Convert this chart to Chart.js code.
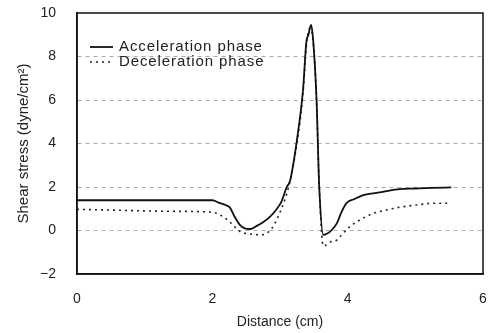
<!DOCTYPE html>
<html lang="en">
<head>
  <meta charset="UTF-8">
  <title>Shear stress vs distance</title>
  <script src="https://cdn.jsdelivr.net/npm/chart.js"></script>
  <style>
    html, body { margin: 0; padding: 0; background: #fff; }
    #wrap { width: 495px; height: 333px; }
  </style>
</head>
<body>
  <div id="wrap"><canvas id="shearChart" width="495" height="333"></canvas></div>

  <script>
    // values
    const accelX = [0, 0.5, 1.0, 1.5, 2.0, 2.1, 2.2, 2.26, 2.33, 2.41, 2.48, 2.56, 2.65, 2.75, 2.85, 2.95, 3.02, 3.1, 3.15, 3.25, 3.34, 3.39, 3.42, 3.46, 3.49, 3.54, 3.58, 3.64, 3.74, 3.84, 3.91, 3.98, 4.1, 4.23, 4.4, 4.52, 4.77, 5.0, 5.25, 5.53];
    const accelY = [1.39, 1.39, 1.39, 1.39, 1.39, 1.27, 1.16, 1.05, 0.63, 0.25, 0.1, 0.07, 0.2, 0.38, 0.63, 0.98, 1.32, 2.0, 2.3, 4.16, 6.46, 8.68, 9.0, 9.45, 8.75, 6.0, 2.0, -0.2, -0.05, 0.33, 0.86, 1.25, 1.45, 1.63, 1.72, 1.78, 1.9, 1.93, 1.96, 1.98];

    const decelX = [0, 0.5, 1.0, 1.5, 2.0, 2.16, 2.28, 2.41, 2.56, 2.73, 2.88, 2.97, 3.07, 3.15, 3.25, 3.34, 3.39, 3.44, 3.49, 3.54, 3.58, 3.64, 3.76, 3.84, 3.91, 4.03, 4.18, 4.38, 4.57, 4.77, 5.02, 5.26, 5.53];
    const decelY = [0.97, 0.94, 0.9, 0.88, 0.84, 0.63, 0.33, -0.05, -0.16, -0.2, 0.1, 0.63, 1.4, 2.3, 4.0, 6.3, 8.5, 9.3, 8.7, 6.0, 2.0, -0.71, -0.51, -0.44, -0.21, 0.17, 0.48, 0.79, 0.94, 1.07, 1.17, 1.25, 1.25];

    const xTicks = [0, 2, 4, 6];
    const yTicks = [-2, 0, 2, 4, 6, 8, 10];
    const seriesNames = ['Acceleration phase', 'Deceleration phase'];

    const FONT = '"Liberation Sans", Arial, Helvetica, sans-serif';

    const toPoints = (xs, ys) => xs.map((x, i) => ({ x: x, y: ys[i] }));

    // kill the automatic label overflow padding, layout.padding decides the plot box
    const noPad = s => { s.paddingTop = 0; s.paddingBottom = 0; s.paddingLeft = 0; s.paddingRight = 0; };

    // frame round the plot + legend inside it
    const frameAndLegend = {
      id: 'frameAndLegend',
      afterDraw(chart) {
        const { ctx, chartArea: a } = chart;
        ctx.save();
        ctx.strokeStyle = '#111';
        ctx.lineWidth = 1.5;
        ctx.strokeRect(a.left, a.top, a.right - a.left, a.bottom - a.top);

        const x0 = a.left + 13;
        const rows = [a.top + 34, a.top + 49];
        chart.data.datasets.forEach((ds, i) => {
          const y = rows[i];
          ctx.beginPath();
          ctx.setLineDash(ds.borderDash || []);
          ctx.lineWidth = ds.borderWidth;
          ctx.strokeStyle = ds.borderColor;
          ctx.moveTo(x0, y);
          ctx.lineTo(x0 + 23, y);
          ctx.stroke();
          ctx.setLineDash([]);
          ctx.fillStyle = '#222';
          ctx.font = '15px ' + FONT;
          ctx.letterSpacing = '0.9px';
          ctx.textBaseline = 'middle';
          ctx.fillText(ds.label, x0 + 29, y);
        });
        ctx.restore();
      }
    };

    const ctx = document.getElementById('shearChart').getContext('2d');
    new Chart(ctx, {
      type: 'line',
      data: {
        datasets: [{
          label: seriesNames[0],
          data: toPoints(accelX, accelY),
          borderColor: '#111',
          borderWidth: 1.8,
          pointRadius: 0,
          cubicInterpolationMode: 'monotone'
        }, {
          label: seriesNames[1],
          data: toPoints(decelX, decelY),
          borderColor: '#222',
          borderWidth: 1.6,
          borderDash: [2, 4],
          pointRadius: 0,
          cubicInterpolationMode: 'monotone'
        }]
      },
      options: {
        responsive: false,
        animation: false,
        layout: { padding: { top: 13, right: 12, left: 0, bottom: 0 } },
        plugins: {
          legend: { display: false },
          tooltip: { enabled: false }
        },
        scales: {
          x: {
            type: 'linear',
            min: 0, max: 6,
            afterBuildTicks: s => { s.ticks = xTicks.map(v => ({ value: v })); },
            afterFit: s => { s.height = 59; noPad(s); },
            grid: { display: false, drawTicks: false },
            border: { display: true, color: '#111', width: 1.5 },
            ticks: { padding: 17, color: '#222', font: { family: FONT, size: 14 } },
            title: {
              display: true, text: 'Distance (cm)', color: '#222',
              font: { family: FONT, size: 14 }, padding: { top: 0, bottom: 2 }
            }
          },
          y: {
            min: -2, max: 10,
            afterBuildTicks: s => { s.ticks = yTicks.map(v => ({ value: v })); },
            afterFit: s => { s.width = 77; noPad(s); },
            grid: {
              drawTicks: false,
              lineWidth: 1,
              color: c => (c.tick && (c.tick.value === -2 || c.tick.value === 10)) ? 'rgba(0,0,0,0)' : '#aaa'
            },
            border: { display: true, color: '#111', width: 1.5, dash: [4, 4] },
            ticks: {
              padding: 21, color: '#222', font: { family: FONT, size: 14 },
              callback: v => (v < 0 ? '\u2212' + Math.abs(v) : String(v))
            },
            title: {
              display: true, text: 'Shear stress (dyne/cm²)', color: '#222',
              font: { family: FONT, size: 15 }, padding: { top: 15, bottom: 0 }
            }
          }
        }
      },
      plugins: [frameAndLegend]
    });
  </script>
</body>
</html>
